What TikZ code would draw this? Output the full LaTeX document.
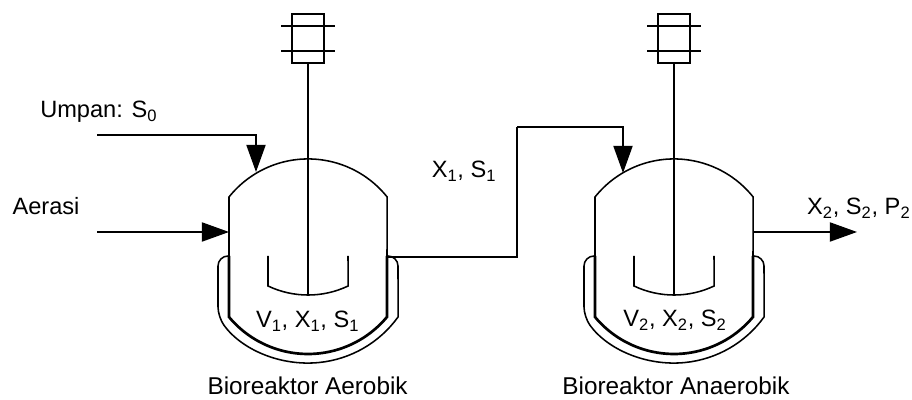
\documentclass[tikz,border=0pt]{standalone}
\usepackage{fontspec}
\setmainfont{Liberation Sans}
\usetikzlibrary{arrows.meta}
\tikzset{
    wall/.style={line width=1.1pt},
    flowline/.style={line width=1.1pt,-{Triangle[length=0.68cm,width=0.48cm]}},
    lbl/.style={anchor=base,inner sep=0pt,font=\fontsize{16.8}{20}\selectfont},
    namelbl/.style={lbl,font=\fontsize{17.3}{20}\selectfont},
}
\begin{document}
\begin{tikzpicture}
\useasboundingbox (0,0) rectangle (22.8,10);

% Two vessels, same drawing
\foreach \cx in {7.7,16.85} {
\begin{scope}[xshift=\cx cm]
    % Motor and shaft
    \draw[wall] (-0.4,8.425) rectangle (0.4,9.65);
    \draw[wall] (-0.675,9.35) -- (0.675,9.35);
    \draw[wall] (-0.675,8.725) -- (0.675,8.725);
    \draw[wall] (0,8.425) -- (0,2.625);
    % Vessel
    \draw[wall] (-1.975,3.6) -- (-1.975,5.075) arc[start angle=141.4,end angle=38.6,radius=2.53] -- (1.975,3.6);
    \draw[line width=1.9pt] (-1.975,3.6) -- (-1.975,2.075) arc[start angle=219.8,end angle=320.2,radius=2.57] -- (1.975,3.6);
    % Jacket
    \draw[wall,rounded corners=0.25cm] (-1.975,3.6) -- (-2.25,3.6) -- (-2.25,2.075) [sharp corners] arc[start angle=215.8,end angle=324.2,radius=2.775] [rounded corners=0.25cm] -- (2.25,3.6) -- (1.975,3.6);
    % Impeller
    \draw[wall] (-1,3.6) -- (-1,2.85) arc[start angle=244.6,end angle=295.4,radius=2.335] -- (1,3.6);
\end{scope}
}

% Stream ends
\coordinate (feedstart) at (2.425,6.625);
\coordinate (feedtip) at (6.4,5.7);
\coordinate (airstart) at (2.425,4.2);
\coordinate (airtip) at (5.725,4.2);
\coordinate (linkstart) at (9.675,3.575);
\coordinate (linkriser) at (12.925,6.825);
\coordinate (linktip) at (15.575,5.675);
\coordinate (outstart) at (18.825,4.2);
\coordinate (outtip) at (21.425,4.2);

% Streams
\draw[flowline] (feedstart) -| (feedtip);
\draw[flowline] (airstart) -- (airtip);
\draw[wall] (linkstart) -| (linkriser);
\draw[flowline] (linkriser) -| (linktip);
\draw[flowline] (outstart) -- (outtip);

% Labels
\node[lbl] (umpan) at (2.47,7.05) {Umpan: S\textsubscript{0}};
\node[lbl] (aerasi) at (1.15,4.625) {Aerasi};
\node[lbl] (link) at (11.6,5.55) {X\textsubscript{1}, S\textsubscript{1}};
\node[lbl] (outlet) at (21.47,4.625) {X\textsubscript{2}, S\textsubscript{2}, P\textsubscript{2}};
\node[lbl] (contentA) at (7.69,1.8) {V\textsubscript{1}, X\textsubscript{1}, S\textsubscript{1}};
\node[lbl] (contentB) at (16.875,1.825) {V\textsubscript{2}, X\textsubscript{2}, S\textsubscript{2}};
\node[namelbl] (nameA) at (7.69,0.14) {Bioreaktor Aerobik};
\node[namelbl] (nameB) at (16.9,0.14) {Bioreaktor Anaerobik};
\end{tikzpicture}
\end{document}
